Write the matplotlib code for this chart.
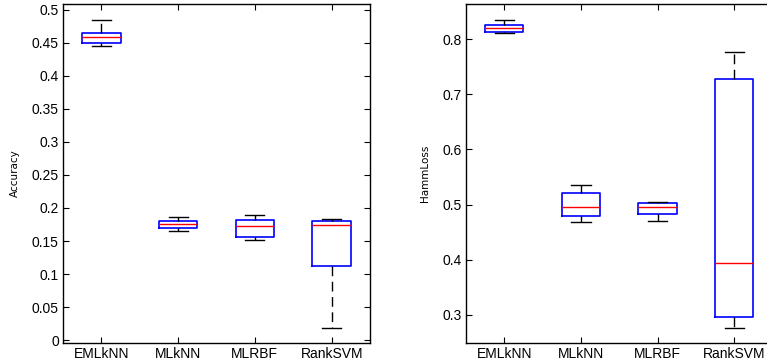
import matplotlib
matplotlib.use('Agg')
import matplotlib.pyplot as plt

methods = ['EMLkNN', 'MLkNN', 'MLRBF', 'RankSVM']

# accuracy: whisker low, q1, median, q3, whisker high
acc_lo = [0.4455, 0.1646, 0.151, 0.0182]
acc_q1 = [0.4495, 0.170, 0.156, 0.1116]
acc_med = [0.4586, 0.1753, 0.1722, 0.1737]
acc_q3 = [0.465, 0.1808, 0.1813, 0.1798]
acc_hi = [0.485, 0.187, 0.1894, 0.1838]

# hamming loss
hl_lo = [0.8115, 0.4675, 0.4699, 0.277]
hl_q1 = [0.8127, 0.4784, 0.4832, 0.297]
hl_med = [0.820, 0.4953, 0.4959, 0.3943]
hl_q3 = [0.8254, 0.5213, 0.5025, 0.7268]
hl_hi = [0.835, 0.5358, 0.505, 0.7764]

acc_ticks = [0, 0.05, 0.1, 0.15, 0.2, 0.25, 0.3, 0.35, 0.4, 0.45, 0.5]
acc_labels = ['0', '0.05', '0.1', '0.15', '0.2', '0.25', '0.3', '0.35', '0.4', '0.45', '0.5']
hl_ticks = [0.3, 0.4, 0.5, 0.6, 0.7, 0.8]
hl_labels = ['0.3', '0.4', '0.5', '0.6', '0.7', '0.8']

plt.rcParams['font.family'] = ['Liberation Sans', 'DejaVu Sans']


def stats(lo, q1, med, q3, hi):
    return [dict(whislo=lo[i], q1=q1[i], med=med[i], q3=q3[i], whishi=hi[i], fliers=[])
            for i in range(len(lo))]


def draw(ax, st, ylim, ticks, labels, ylab):
    ax.bxp(st, positions=[1, 2, 3, 4], widths=0.5, showfliers=False,
           boxprops=dict(color='blue', linewidth=1.2),
           medianprops=dict(color='red', linewidth=1.0),
           whiskerprops=dict(color='black', linewidth=1.0, linestyle=(0, (7, 4))),
           capprops=dict(color='black', linewidth=1.0),
           capwidths=0.25)
    ax.set_xlim(0.5, 4.5)
    ax.set_ylim(*ylim)
    ax.set_xticks([1, 2, 3, 4])
    ax.set_xticklabels(methods)
    ax.set_yticks(ticks)
    ax.set_yticklabels(labels)
    ax.tick_params(direction='in', top=True, right=True, length=4, labelsize=10, pad=3)
    for s in ax.spines.values():
        s.set_linewidth(1.0)
    ax.set_ylabel(ylab, fontsize=7.5, family='Liberation Sans Narrow')


fig = plt.figure(figsize=(7.67, 3.61), dpi=100)
ax1 = fig.add_axes([63/767, 18/361, 307/767, 339/361])
ax2 = fig.add_axes([466/767, 18/361, 312/767, 339/361])

draw(ax1, stats(acc_lo, acc_q1, acc_med, acc_q3, acc_hi), (-0.0045, 0.509),
     acc_ticks, acc_labels, 'Accuracy')
draw(ax2, stats(hl_lo, hl_q1, hl_med, hl_q3, hl_hi), (0.249, 0.8635),
     hl_ticks, hl_labels, 'HammLoss')
# right panel is cut by the figure edge in the original
ax2.set_xlim(0.5, 4.57)

ax1.yaxis.set_label_coords(-43/307, 0.5)
ax2.yaxis.set_label_coords(-36/312, 0.5)

fig.savefig('out.png', dpi=100)
